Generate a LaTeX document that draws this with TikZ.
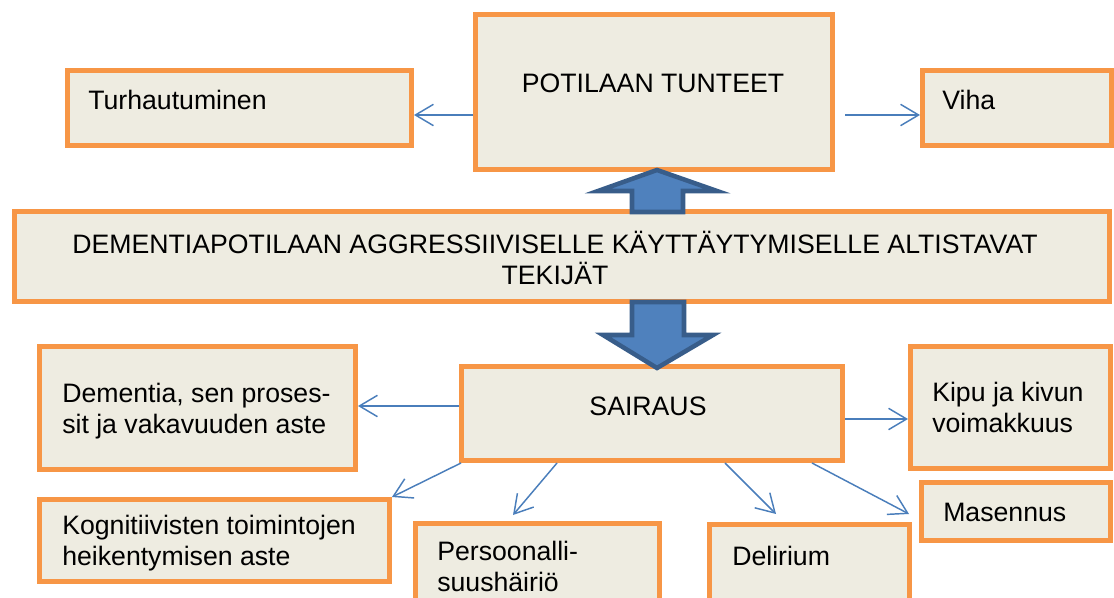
\documentclass[tikz,border=0pt]{standalone}
\usepackage{fontspec}
\setmainfont{Liberation Sans}
\usepackage{tikz}
\usetikzlibrary{arrows.meta,fit}

\definecolor{boxfill}{HTML}{EEECE1}
\definecolor{boxline}{HTML}{F79646}
\definecolor{conncol}{HTML}{4A7EBB}
\definecolor{bigfill}{HTML}{4F81BD}
\definecolor{bigline}{HTML}{385D8A}

\tikzset{
  box/.style={draw=boxline, fill=boxfill, line width=3.75pt, inner sep=0pt},
  txt/.style={anchor=base west, align=left, inner sep=0pt, font=\fontsize{20}{23.25}\selectfont},
  conn/.style={draw=conncol, line width=1.1pt, -{Straight Barb[length=13.5pt,width=16pt]}},
  bigarrow/.style={fill=bigfill, draw=bigline, line width=3.4pt},
}

\begin{document}
\begin{tikzpicture}[x=0.75pt, y=-0.75pt]
  \useasboundingbox (0,0) rectangle (1114,598);
  % boxes
  \node[box, fit={(67.5,70.5) (411.5,145.5)}] (tu) {};
  \node[box, fit={(475.5,14.5) (832.5,169.5)}] (pot) {};
  \node[box, fit={(922.5,70.5) (1111.5,145.5)}] (viha) {};
  \node[box, fit={(14.5,211.5) (1109.5,301.5)}] (dem) {};
  \node[box, fit={(461.5,366.5) (842.5,460.5)}] (sai) {};
  \node[box, fit={(39.5,346.5) (355.5,469.5)}] (dp) {};
  \node[box, fit={(910.5,346.5) (1110.5,468.5)}] (kipu) {};
  \node[box, fit={(921.5,482.5) (1110.5,540.5)}] (mas) {};
  \node[box, fit={(39.5,499.5) (389.5,581.5)}] (kog) {};
  \node[box, fit={(415.5,523.5) (659.5,640)}] (per) {};
  \node[box, fit={(709.5,524.5) (909.5,640)}] (del) {};

  % texts (multi-line: placed by last baseline)
  \node[txt] (tu-t) at (88,110) {Turhautuminen};
  \node[txt, anchor=base] (pot-t) at (653,93) {POTILAAN TUNTEET};
  \node[txt] (viha-t) at (942,110) {Viha};
  \node[txt, anchor=base, align=center] (dem-t) at (555,285)
    {DEMENTIAPOTILAAN AGGRESSIIVISELLE KÄYTTÄYTYMISELLE ALTISTAVAT\\TEKIJÄT};
  \node[txt, anchor=base] (sai-t) at (648,416) {SAIRAUS};
  \node[txt] (dp-t) at (62,434) {Dementia, sen proses-\\sit ja vakavuuden aste};
  \node[txt] (kipu-t) at (932,433) {Kipu ja kivun\\voimakkuus};
  \node[txt] (mas-t) at (943,522) {Masennus};
  \node[txt] (kog-t) at (62,565) {Kognitiivisten toimintojen\\heikentymisen aste};
  \node[txt] (per-t) at (437,591) {Persoonalli-\\suushäiriö};
  \node[txt] (del-t) at (732,565) {Delirium};

  % connectors
  \draw[conn] ([shift={(0,23)}]pot.west) -- ([shift={(0,7)}]tu.east);
  \draw[conn] ([shift={(10,23)}]pot.east) -- ([shift={(0,7)}]viha.west);
  \draw[conn] ([shift={(0,-7.5)}]sai.west) -- ([shift={(0,-2)}]dp.east);
  \draw[conn] ([shift={(0,5.5)}]sai.east) -- ([shift={(0,11.5)}]kipu.west);
  \draw[conn] ([shift={(2,0)}]sai.south west) -- (kog.north east);
  \draw[conn] ([shift={(-95,0)}]sai.south) -- ([shift={(100,-6)}]per.north west);
  \draw[conn] ([shift={(73,0)}]sai.south) -- ([shift={(69,-8)}]del.north west);
  \draw[conn] ([shift={(-33,0)}]sai.south east) -- ([shift={(-10,2.5)}]mas.west);

  % block arrows
  \draw[bigarrow] (632,212) -- (632,191) -- (598,191) -- (657,170) -- (717,191)
    -- (683,191) -- (683,212) -- cycle;
  \draw[bigarrow] (632,302) -- (632,335) -- (603,335) -- (657,368) -- (713,335)
    -- (684,335) -- (684,302) -- cycle;
\end{tikzpicture}
\end{document}
